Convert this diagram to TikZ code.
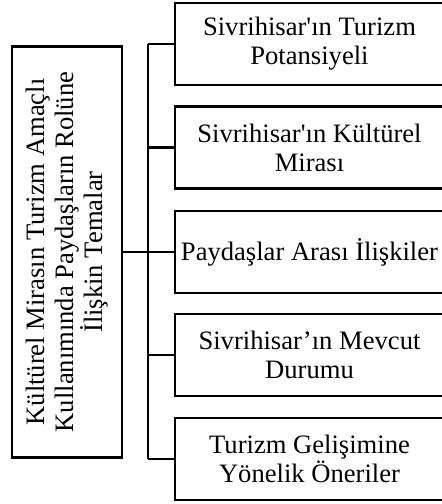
\documentclass[tikz,border=0pt]{standalone}
\usepackage{fontspec}
\setmainfont{Liberation Serif}
\tikzset{
  tema/.style={draw, line width=1.2pt, inner sep=0pt, align=center,
    font=\fontsize{13.3}{14.4}\selectfont},
  kol/.style={line width=1.2pt}
}
\begin{document}
\begin{tikzpicture}[x=0.5pt, y=-0.5pt]
    \useasboundingbox (0,0) rectangle (442,504);
    \node [tema, rotate=90, minimum width=205.5pt, minimum height=55pt] (0) at (67,252)
      {Kültürel Mirasın Turizm Amaçlı\\ Kullanımında Paydaşların Rolüne\\ İlişkin Temalar};
    \node [tema, minimum width=134.5pt, minimum height=41pt] (1) at (309.5,44)
      {Sivrihisar\textquotesingle ın Turizm\\ Potansiyeli};
    \node [tema, minimum width=134.5pt, minimum height=41pt] (2) at (309.5,147.5)
      {Sivrihisar\textquotesingle ın Kültürel\\ Mirası};
    \node [tema, minimum width=134.5pt, minimum height=41pt] (3) at (309.5,252)
      {Paydaşlar Arası İlişkiler};
    \node [tema, minimum width=134.5pt, minimum height=41pt] (4) at (309.5,355)
      {Sivrihisar’ın Mevcut\\ Durumu};
    \node [tema, minimum width=134.5pt, minimum height=41pt] (5) at (309.5,459)
      {Turizm Gelişimine\\ Yönelik Öneriler};
    \coordinate (b1) at (148,44);
    \coordinate (b2) at (148,147.5);
    \coordinate (b4) at (148,355);
    \coordinate (b5) at (148,459);
    \draw [kol] (b1) -- (b5);
    \draw [kol] (0) -- (3);
    \draw [kol] (b1) -- (1);
    \draw [kol] (b2) -- (2);
    \draw [kol] (b4) -- (4);
    \draw [kol] (b5) -- (5);
  \end{tikzpicture}
\end{document}
